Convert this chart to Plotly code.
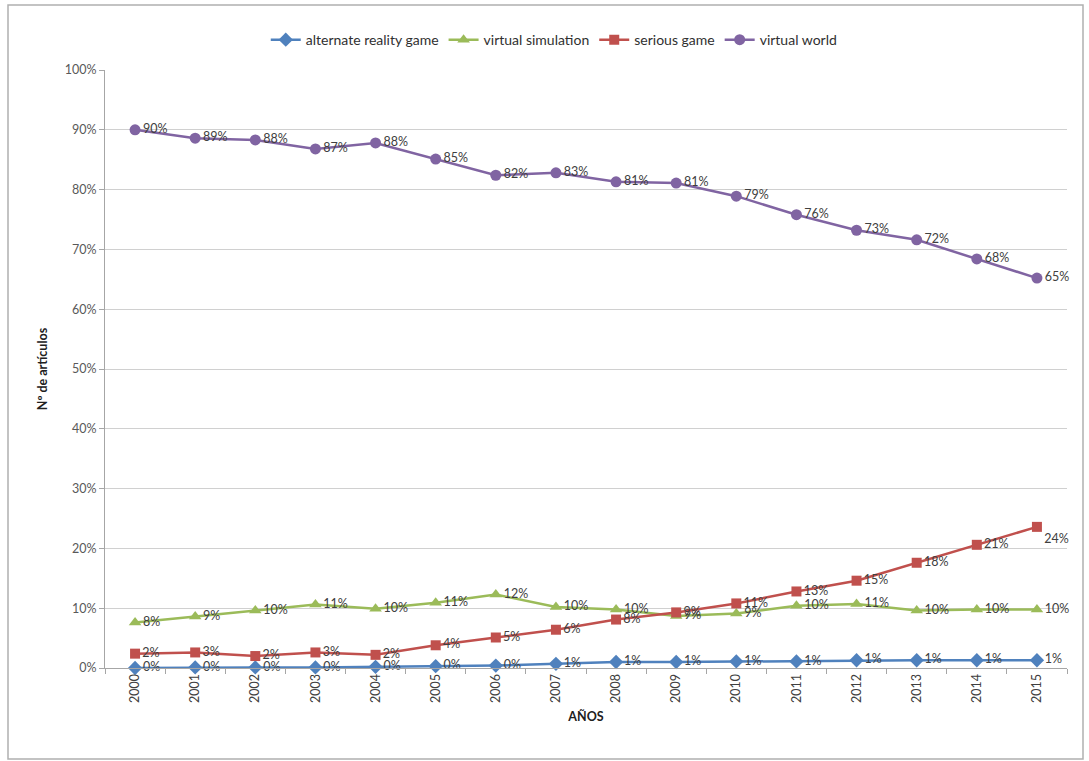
import plotly.graph_objects as go

# Years (categories) and share of articles per term, in percent
years = [str(y) for y in range(2000, 2016)]

alternate_reality_game = [0.0, 0.1, 0.1, 0.1, 0.2, 0.3, 0.4, 0.7, 1.0, 1.0, 1.1, 1.1, 1.3, 1.3, 1.3, 1.3]
virtual_simulation = [7.6, 8.6, 9.6, 10.6, 9.9, 10.9, 12.3, 10.2, 9.8, 8.7, 9.1, 10.4, 10.7, 9.6, 9.8, 9.8]
serious_game = [2.4, 2.6, 2.0, 2.6, 2.2, 3.8, 5.1, 6.4, 8.1, 9.3, 10.8, 12.8, 14.6, 17.6, 20.6, 23.6]
virtual_world = [90.0, 88.6, 88.3, 86.8, 87.8, 85.1, 82.4, 82.8, 81.3, 81.1, 78.9, 75.8, 73.2, 71.6, 68.4, 65.2]

y_ticks = [0, 10, 20, 30, 40, 50, 60, 70, 80, 90, 100]
y_tick_labels = [f"{v}%" for v in y_ticks]

# Label placement per point (to the right of each marker, the last red one just below)
right = ["middle right"] * 16
serious_positions = list(right)
serious_positions[15] = "bottom right"

series = [
    ("alternate reality game", alternate_reality_game, "#4F81BD", "diamond", 11, right),
    ("virtual simulation", virtual_simulation, "#9BBB59", "triangle-up", 11, right),
    ("serious game", serious_game, "#C0504D", "square", 10, serious_positions),
    ("virtual world", virtual_world, "#8064A2", "circle", 11, right),
]

FONT = "Lato, 'Open Sans', sans-serif"

fig = go.Figure()
for name, values, color, symbol, size, positions in series:
    fig.add_trace(go.Scatter(
        x=years,
        y=values,
        name=name,
        mode="lines+markers+text",
        line=dict(color=color, width=2.5),
        marker=dict(symbol=symbol, size=size, color=color),
        text=[f"{round(v):.0f}%" for v in values],
        textposition=positions,
        textfont=dict(family=FONT, size=12.5, color="#404040"),
        cliponaxis=False,
    ))

fig.update_layout(
    width=1089,
    height=761,
    margin=dict(l=105, r=22, t=70, b=93, autoexpand=False),
    paper_bgcolor="white",
    plot_bgcolor="white",
    font=dict(family=FONT, size=12, color="#404040"),
    showlegend=True,
    legend=dict(
        orientation="h",
        x=0.467,
        xanchor="center",
        y=1.05,
        yanchor="middle",
        font=dict(family=FONT, size=14, color="#303030"),
        itemwidth=30,
        tracegroupgap=0,
    ),
    xaxis=dict(
        type="category",
        range=[-0.5, 15.5],
        tickangle=-90,
        showgrid=False,
        showline=True,
        linecolor="#A6A6A6",
        linewidth=1,
        ticks="outside",
        ticklen=5,
        tickcolor="#A6A6A6",
        tickson="boundaries",
        tickfont=dict(family=FONT, size=12.5, color="#404040"),
        title=dict(text="<b>AÑOS</b>", font=dict(family=FONT, size=12.5, color="#202020"), standoff=10),
    ),
    yaxis=dict(
        range=[0, 100],
        tickvals=y_ticks,
        ticktext=y_tick_labels,
        showgrid=True,
        gridcolor="#D0D0D0",
        gridwidth=1,
        showline=True,
        linecolor="#A6A6A6",
        linewidth=1,
        ticks="outside",
        ticklen=5,
        tickcolor="#A6A6A6",
        zeroline=False,
        tickfont=dict(family=FONT, size=12.5, color="#595959"),
        title=dict(text="<b>Nº de artículos</b>", font=dict(family=FONT, size=12.5, color="#202020"), standoff=14),
    ),
)

# Outer chart frame
fig.add_shape(
    type="rect",
    xref="paper", yref="paper",
    x0=(8 - 105) / 962, x1=(1083 - 105) / 962,
    y0=(668 - 759) / 598, y1=(668 - 5) / 598,
    line=dict(color="#B0B0B0", width=1.5),
    fillcolor="rgba(0,0,0,0)",
    layer="below",
)

fig.write_html("out.html")
